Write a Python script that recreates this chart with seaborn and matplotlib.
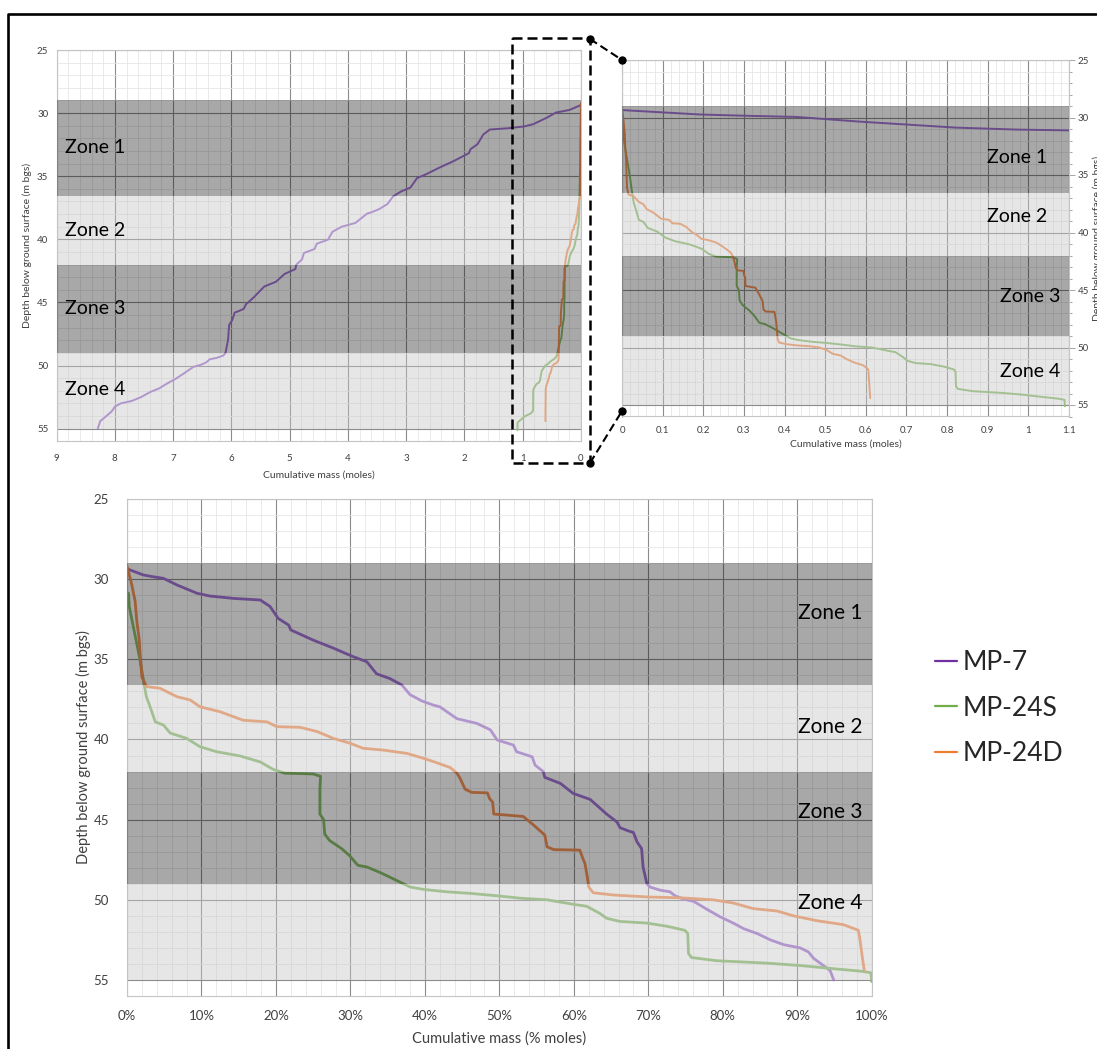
import numpy as np
import pandas as pd
import matplotlib
matplotlib.use("Agg")
import matplotlib.pyplot as plt
import seaborn as sns
from matplotlib.lines import Line2D
from matplotlib.ticker import MultipleLocator, FuncFormatter

# ---------------- data ----------------
wells = ["MP-7", "MP-24S", "MP-24D"]
# total mass (moles) corresponding to 100 %
total_moles = [8.74, 1.09, 0.617]

mp7_pct = [0.0, 0.2, 2.2, 3.5, 4.9, 6.7, 9.4, 11.1, 14.3, 17.9, 19.2, 20.3, 21.7, 22.0, 25.0,
           27.7, 30.4, 32.2, 33.5, 35.3, 36.9, 38.0, 39.6, 41.1, 42.0, 44.3, 47.0, 48.8, 49.7,
           51.9, 52.3, 54.4, 54.8, 55.9, 56.1, 58.2, 59.9, 62.2, 64.4, 65.8, 66.2, 67.3, 68.0,
           68.5, 69.1, 69.3, 69.8, 70.2, 71.6, 72.9, 73.6, 74.7, 76.1, 77.9, 79.6, 81.4, 82.8,
           84.6, 86.4, 88.2, 90.4, 91.5, 92.2, 93.5, 94.4, 94.9]
mp7_depth = [29.35, 29.39, 29.74, 29.85, 29.95, 30.36, 30.88, 31.05, 31.2, 31.3, 31.7, 32.45,
             32.86, 33.17, 33.8, 34.3, 34.84, 35.15, 35.9, 36.2, 36.6, 37.2, 37.6, 37.85, 37.96,
             38.7, 39.0, 39.4, 40.03, 40.35, 40.76, 41.08, 41.6, 42.0, 42.36, 42.74, 43.36,
             43.74, 44.65, 45.15, 45.5, 45.7, 45.8, 46.4, 46.8, 47.95, 48.98, 49.2, 49.4, 49.5,
             49.75, 49.95, 50.1, 50.6, 51.05, 51.45, 51.8, 52.1, 52.5, 52.8, 53.0, 53.25, 53.65,
             54.1, 54.4, 55.0]

mp24s_pct = [0.0, 0.2, 0.3, 0.85, 1.3, 1.75, 2.2, 2.6, 3.1, 3.8, 4.9, 5.8, 8.0, 9.8, 12.0, 15.2,
             17.9, 19.6, 21.2, 25.0, 26.0, 25.9, 25.9, 26.4, 26.55, 27.2, 28.8, 29.9, 31.0, 32.2,
             34.0, 35.8, 38.0, 39.8, 42.9, 46.1, 49.7, 52.8, 56.4, 60.2, 61.7, 63.5, 64.4, 66.2,
             69.8, 72.5, 74.9, 75.3, 75.4, 75.8, 79.2, 85.9, 90.4, 94.9, 98.5, 99.9, 100.0]
mp24s_depth = [30.85, 30.88, 31.7, 32.97, 34.0, 35.04, 36.3, 37.33, 37.96, 38.9, 39.1, 39.6,
               39.93, 40.45, 40.76, 41.03, 41.4, 41.86, 42.1, 42.15, 42.3, 43.1, 44.65, 45.0,
               45.9, 46.3, 46.8, 47.25, 47.85, 47.95, 48.3, 48.7, 49.2, 49.35, 49.5, 49.6, 49.75,
               49.9, 50.0, 50.3, 50.4, 50.85, 51.15, 51.35, 51.45, 51.65, 51.9, 52.1, 53.35,
               53.6, 53.8, 53.95, 54.1, 54.3, 54.45, 54.55, 55.1]

mp24d_pct = [0.0, 0.6, 1.1, 1.3, 1.65, 1.75, 2.0, 2.6, 4.4, 6.7, 8.5, 9.8, 12.5, 15.6, 18.8,
             20.1, 23.2, 25.5, 27.7, 30.0, 31.7, 34.4, 37.6, 40.0, 41.6, 43.4, 44.3, 44.7, 45.4,
             46.3, 48.4, 48.7, 49.1, 49.25, 53.2, 54.6, 56.1, 56.4, 57.3, 60.8, 61.2, 61.5, 61.8,
             62.0, 62.6, 65.3, 69.8, 74.5, 78.7, 81.4, 84.1, 87.3, 89.5, 92.6, 96.2, 98.2, 98.4,
             98.7, 99.0]
mp24d_depth = [29.2, 30.26, 31.4, 32.55, 33.8, 34.6, 36.1, 36.7, 36.8, 37.33, 37.54, 37.96,
               38.27, 38.8, 38.9, 39.2, 39.24, 39.5, 39.93, 40.24, 40.55, 40.66, 40.87, 41.2,
               41.45, 41.75, 42.1, 42.4, 43.1, 43.3, 43.33, 43.7, 43.9, 44.65, 44.8, 45.34,
               45.96, 46.69, 46.87, 46.9, 47.4, 47.75, 48.55, 49.2, 49.56, 49.7, 49.82, 49.88,
               50.0, 50.2, 50.55, 50.7, 51.0, 51.3, 51.55, 51.9, 52.4, 53.45, 54.4]

zone_names = ["Zone 1", "Zone 2", "Zone 3", "Zone 4"]
zone_top = [29.0, 36.6, 42.0, 49.0]
zone_bottom = [36.6, 42.0, 49.0, 55.0]
zone_dark = [True, False, True, False]

# ---------------- build table ----------------
frames = []
for w, tot, p, d in zip(wells, total_moles,
                        [mp7_pct, mp24s_pct, mp24d_pct],
                        [mp7_depth, mp24s_depth, mp24d_depth]):
    p = np.asarray(p, float)
    frames.append(pd.DataFrame({"well": w, "pct": p, "moles": p / 100.0 * tot,
                                "depth": np.asarray(d, float)}))
df = pd.concat(frames, ignore_index=True)

line_cols = {"MP-7": "#a272d3", "MP-24S": "#88bd6a", "MP-24D": "#f59155"}
legend_cols = {"MP-7": "#7030a0", "MP-24S": "#70ad47", "MP-24D": "#ed7d31"}

# ---------------- figure ----------------
sns.set_theme(style="white")
plt.rcParams["font.family"] = ["Lato", "DejaVu Sans"]

W, H = 1097, 1049
fig = plt.figure(figsize=(W / 100, H / 100), dpi=100)


def rect(l, t, r, b):
    return [l / W, 1 - b / H, (r - l) / W, (b - t) / H]


ax1 = fig.add_axes(rect(56.6, 50, 581, 441.3))
ax2 = fig.add_axes(rect(622, 60, 1069, 416.5))
ax3 = fig.add_axes(rect(127, 499, 871.7, 996))


def style(ax, xmaj, xmin, fs, xpad, ypad):
    ax.set_ylim(56, 25)
    ax.yaxis.set_major_locator(MultipleLocator(5))
    ax.yaxis.set_minor_locator(MultipleLocator(1))
    ax.xaxis.set_major_locator(MultipleLocator(xmaj))
    ax.xaxis.set_minor_locator(MultipleLocator(xmin))
    ax.set_axisbelow(True)
    ax.grid(which="major", color="#8c8c8c", lw=0.8)
    ax.grid(which="minor", color="#e6e6e6", lw=0.6)
    for s in ax.spines.values():
        s.set_color("#c4c4c4")
        s.set_linewidth(0.8)
    ax.tick_params(which="both", direction="out", color="#a6a6a6", width=0.7,
                   labelsize=fs, labelcolor="#404040")
    ax.tick_params(axis="x", which="both", pad=xpad)
    ax.tick_params(axis="y", which="both", pad=ypad)
    ax.tick_params(which="major", length=4)
    ax.tick_params(which="minor", length=2.5)


def bands(ax):
    for a, b, dark in zip(zone_top, zone_bottom, zone_dark):
        if dark:
            ax.axhspan(a, b, color="black", alpha=0.34, lw=0, zorder=3)
        else:
            ax.axhspan(a, b, color="#c6c6c6", alpha=0.44, lw=0, zorder=3)


# --- top-left: full moles range, inverted x ---
sns.lineplot(data=df, x="moles", y="depth", hue="well", palette=line_cols, sort=False,
             estimator=None, ax=ax1, legend=False, lw=1.4, zorder=2)
style(ax1, 1, 0.2, 7, 5, 2)
ax1.set_xlim(9, 0)
bands(ax1)
ax1.set_xlabel("Cumulative mass (moles)", fontsize=7.5, color="#404040")
ax1.set_ylabel("Depth below ground surface (m bgs)", fontsize=7.5, color="#404040")
ax1.xaxis.set_label_coords(0.5, -0.074)
ax1.yaxis.set_label_coords(-0.047, 0.5)
for name, y in zip(zone_names, [32.7, 39.3, 45.45, 51.9]):
    ax1.text(8.86, y, name, fontsize=14, ha="left", va="center", color="black", zorder=5)

# --- top-right: zoom 0..1.1 moles ---
sns.lineplot(data=df, x="moles", y="depth", hue="well", palette=line_cols, sort=False,
             estimator=None, ax=ax2, legend=False, lw=1.4, zorder=2)
style(ax2, 0.1, 0.02, 7, 3, 2)
ax2.set_xlim(0, 1.1)
ax2.xaxis.set_major_formatter(FuncFormatter(lambda v, p: f"{round(v, 2):g}"))
ax2.yaxis.tick_right()
ax2.yaxis.set_label_position("right")
bands(ax2)
ax2.set_xlabel("Cumulative mass (moles)", fontsize=7.5, color="#404040")
ax2.set_ylabel("Depth below ground surface (m bgs)", fontsize=7.5, color="#404040",
               rotation=90)
ax2.xaxis.set_label_coords(0.5, -0.066)
ax2.yaxis.set_label_coords(1.053, 0.5)
for name, y, x in zip(zone_names, [33.5, 38.65, 45.6, 52.1], [1.046, 1.046, 1.078, 1.078]):
    ax2.text(x, y, name, fontsize=14, ha="right", va="center", color="black", zorder=5)

# --- bottom: percent ---
sns.lineplot(data=df, x="pct", y="depth", hue="well", palette=line_cols, sort=False,
             estimator=None, ax=ax3, legend=False, lw=2.0, zorder=2)
style(ax3, 10, 2, 9.5, 6, 9)
ax3.set_xlim(0, 100)
ax3.xaxis.set_major_formatter(FuncFormatter(lambda v, p: f"{v:.0f}%"))
bands(ax3)
ax3.set_xlabel("Cumulative mass (% moles)", fontsize=10.5, color="#404040")
ax3.set_ylabel("Depth below ground surface (m bgs)", fontsize=10.5, color="#404040")
ax3.xaxis.set_label_coords(0.5, -0.072)
ax3.yaxis.set_label_coords(-0.048, 0.5)
for name, y in zip(zone_names, [32.1, 39.2, 44.5, 50.2]):
    ax3.text(98.8, y, name, fontsize=15, ha="right", va="center", color="black", zorder=5)

# --- legend ---
handles = [Line2D([0], [0], color=legend_cols[w], lw=1.6) for w in wells]
fig.legend(handles, wells, loc="upper left", bbox_to_anchor=(935 / W, 1 - 650 / H),
           frameon=False, fontsize=19, handlelength=0.85, handletextpad=0.2,
           labelspacing=0.78, borderpad=0, borderaxespad=0)


# --- decorations: outer frame, dashed zoom box and connectors ---
def fx(x):
    return x / W


def fy(y):
    return 1 - y / H


fig.add_artist(Line2D([fx(8), fx(8), fx(1100)], [fy(1052), fy(14), fy(14)],
                      color="black", lw=1.9, transform=fig.transFigure))
fig.add_artist(Line2D([fx(512), fx(590), fx(590), fx(512), fx(512)],
                      [fy(38), fy(38), fy(463), fy(463), fy(38)],
                      color="black", lw=1.8, ls=(0, (4, 2)), transform=fig.transFigure))
fig.add_artist(Line2D([fx(590), fx(622)], [fy(39), fy(60)], color="black", lw=1.5,
                      ls=(0, (4, 2)), transform=fig.transFigure))
fig.add_artist(Line2D([fx(590), fx(622)], [fy(463), fy(411)], color="black", lw=1.5,
                      ls=(0, (4, 2)), transform=fig.transFigure))
fig.add_artist(Line2D([fx(590), fx(622), fx(590), fx(622)],
                      [fy(39), fy(60), fy(463), fy(411)], color="black", lw=0,
                      marker="o", ms=5, transform=fig.transFigure))

fig.savefig("out.png", dpi=100)
